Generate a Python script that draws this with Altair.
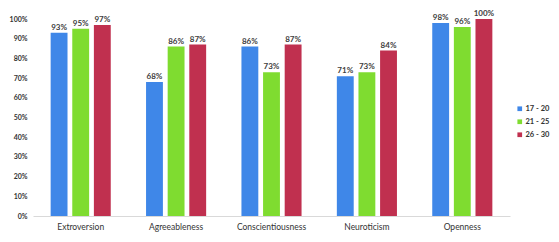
import altair as alt
import pandas as pd

traits = ["Extroversion", "Agreeableness", "Conscientiousness", "Neuroticism", "Openness"]
groups = ["17 - 20", "21 - 25", "26 - 30"]
g17_20 = [93, 68, 86, 71, 98]
g21_25 = [95, 86, 73, 73, 96]
g26_30 = [97, 87, 87, 84, 100]
colors = ["#3f87e8", "#7fdc30", "#c0304f"]
yticks = [0, 0.1, 0.2, 0.3, 0.4, 0.5, 0.6, 0.7, 0.8, 0.9, 1.0]

rows = []
for g, vals in zip(groups, [g17_20, g21_25, g26_30]):
    for t, v in zip(traits, vals):
        rows.append({"trait": t, "group": g, "value": v / 100, "label": f"{v}%"})
df = pd.DataFrame(rows)

x = alt.X("trait:N", sort=traits, title=None,
          scale=alt.Scale(paddingInner=0.37, paddingOuter=0.185),
          axis=alt.Axis(labelAngle=0, ticks=False, domainColor="#d9d9d9",
                        labelFontSize=8.5, labelColor="#333333", labelPadding=6,
                        labelFont="Lato"))
xo = alt.XOffset("group:N", sort=groups, scale=alt.Scale(paddingInner=0.22))
y = alt.Y("value:Q", title=None,
          scale=alt.Scale(domain=[0, 1], nice=False),
          axis=alt.Axis(format=".0%", values=yticks,
                        grid=False, domain=False, ticks=False, labelOverlap=False,
                        labelFontSize=7, labelColor="#333333", labelPadding=6,
                        labelFont="Lato", labelFontWeight="bold"))

base = alt.Chart(df).encode(x=x, xOffset=xo, y=y)

bars = base.mark_bar().encode(
    color=alt.Color("group:N", sort=groups,
                    scale=alt.Scale(domain=groups, range=colors),
                    legend=alt.Legend(title=None, orient="none", legendX=483, legendY=86,
                                      symbolType="square", symbolSize=22,
                                      labelFontSize=7.5, labelColor="#333333",
                                      labelFont="Lato", labelFontWeight="bold",
                                      labelOffset=2, rowPadding=4, padding=0)),
)

text = base.mark_text(dy=-5, fontSize=8, color="#404040", font="Lato", fontWeight="bold").encode(
    text="label:N",
)

chart = (bars + text).properties(
    width=477, height=197,
    autosize=alt.AutoSizeParams(type="none"),
    padding={"left": 25, "top": 11, "right": 41, "bottom": 18},
).configure_view(stroke=None)

chart.save("out.html", embed_options={"renderer": "svg", "actions": False})
